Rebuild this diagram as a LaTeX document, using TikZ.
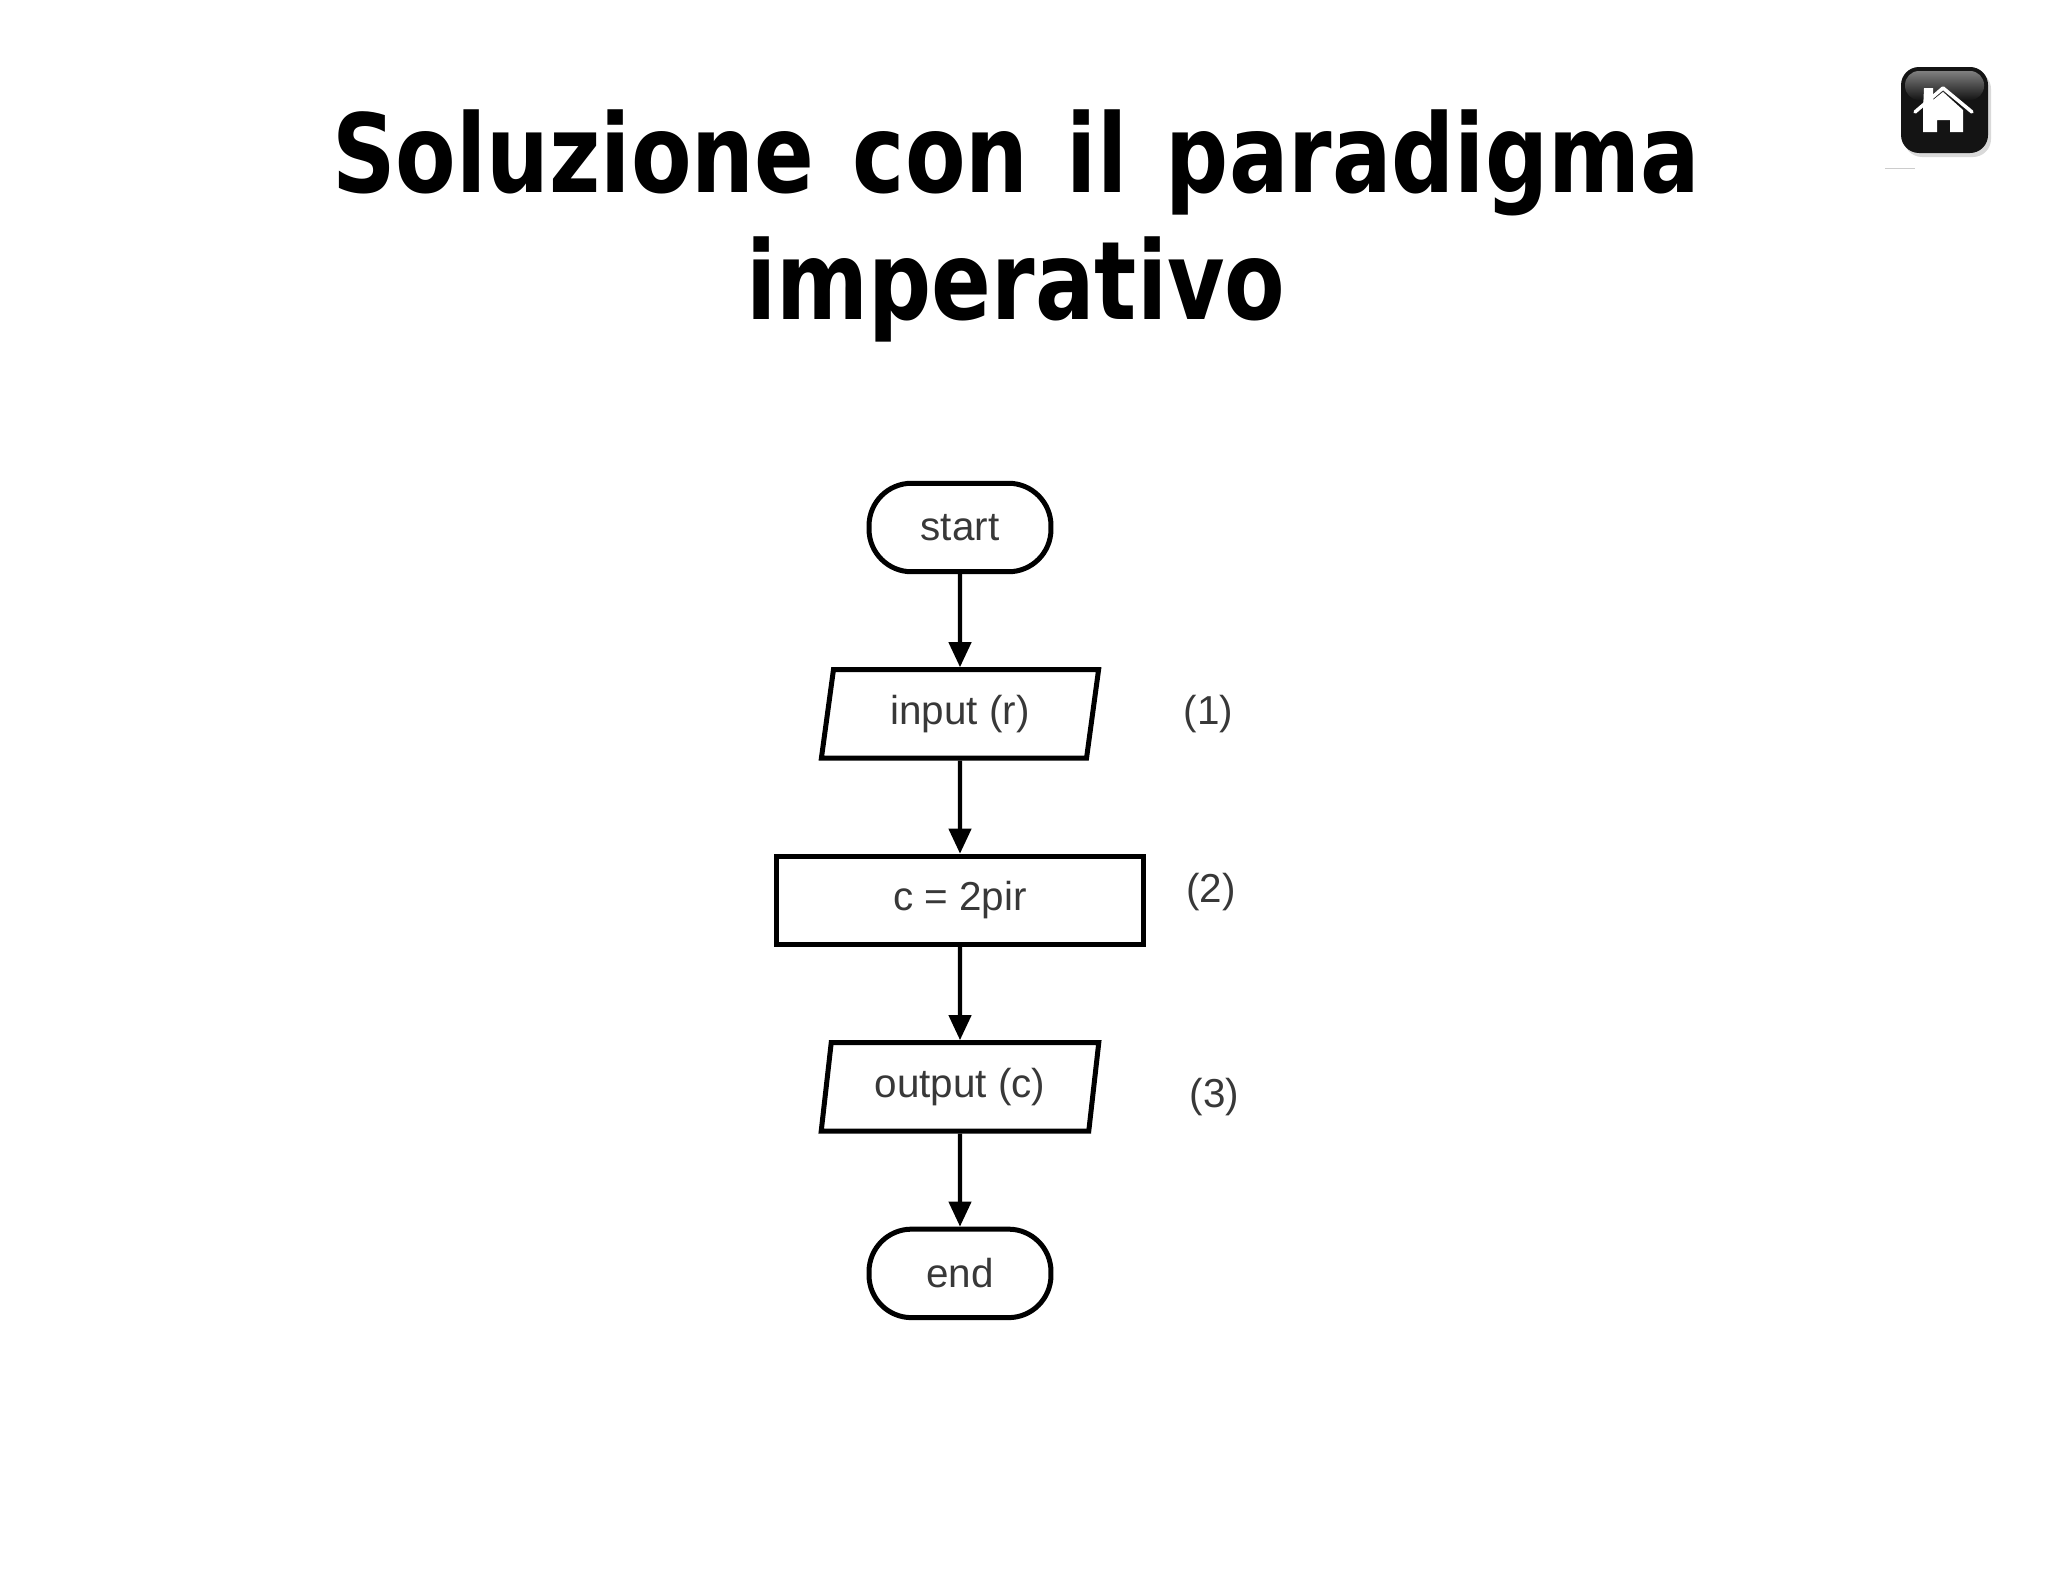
\documentclass[tikz,border=0pt]{standalone}
\usepackage{fontspec}
\usepackage{xcolor}
\usepackage{tikz}
\usetikzlibrary{positioning,arrows.meta,shapes.geometric}
\setmainfont{Liberation Sans}
\newfontfamily\titlefont[FakeStretch=0.81,WordSpace=1.25]{DejaVu Sans}

\begin{document}
\begin{tikzpicture}[
		x=0.02cm, y=-0.02cm,
		every node/.style={
			font=\fontsize{23}{27}\selectfont, text=black!78
		},
		flow_base/.style={
			draw=black, line width=0.1cm, minimum height=1.77cm, inner sep=0pt
		},
		% Terminal blocks
		term_node/.style={
			flow_base, rectangle, rounded corners=0.85cm, minimum width=3.64cm
		},
		% Input and output
		io_node/.style={
			flow_base, trapezium, trapezium left angle=80, trapezium right angle=100,
			trapezium stretches=true, minimum width=5.56cm
		},
		proc_node/.style={
			flow_base, rectangle, minimum width=7.34cm
		},
		flow_arrow/.style={
			-{Triangle[width=0.44cm,length=0.5cm]}, line width=0.085cm, black
		},
		title_node/.style={
			font=\titlefont\bfseries\fontsize{62}{72}\selectfont, text=black, align=center
		}
	]
	\useasboundingbox (0,0) rectangle (2048,1582);
	
	% Title
	\node[title_node] (title) at (1016,226) {Soluzione con il paradigma\\imperativo};
	
	% Flow chart
	\node[term_node] (start) at (960,527.5) {start};
	\node[io_node, below=1.86cm of start] (input) {input (r)};
	\node[proc_node, below=1.86cm of input] (comp) {c = 2pir};
	\node[io_node, below=1.86cm of comp] (output) {output (c)};
	\node[term_node, below=1.86cm of output] (end) {end};
	
	\draw[flow_arrow] (start) -- (input);
	\draw[flow_arrow] (input) -- (comp);
	\draw[flow_arrow] (comp) -- (output);
	\draw[flow_arrow] (output) -- (end);
	
	% Step numbers
	\node[right=1.65cm of input] (num1) {(1)};
	\node[right=0.68cm of comp, yshift=0.16cm] (num2) {(2)};
	\node[right=1.75cm of output, yshift=-0.2cm] (num3) {(3)};
	
	% Home button
	\fill[black!15, rounded corners=0.36cm] (1904,71) rectangle (1991,157);
	\fill[black!92, rounded corners=0.36cm] (1901,67) rectangle (1988,153);
	\shade[top color=black!50, bottom color=black!92, rounded corners=0.28cm] (1905,71) rectangle (1984,100);
	\fill[white] (1924,88) -- (1933,88) -- (1933,100) -- (1943,92) -- (1963,110) -- (1963,132)
		-- (1950,132) -- (1950,120) -- (1937,120) -- (1937,132) -- (1923,132) -- (1923,110) -- cycle;
	\draw[white, line width=0.07cm, line cap=round, line join=round] (1915,112) -- (1943,88) -- (1972,112);
	\fill[black!20] (1885,167.5) rectangle (1915,169);
\end{tikzpicture}
\end{document}
